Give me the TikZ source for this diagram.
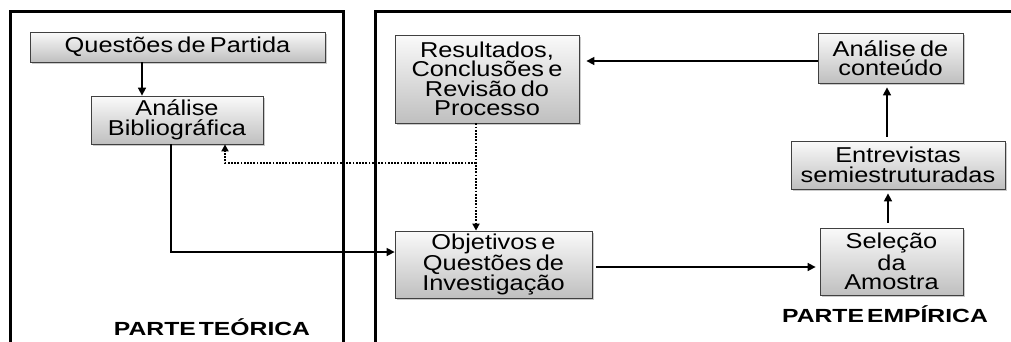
\documentclass[tikz,border=0pt]{standalone}
\usepackage{fontspec}
\setmainfont{Liberation Sans}[FakeStretch=1.18, WordSpace=0.6]
\newfontfamily\lblfont{Liberation Sans}[FakeStretch=1.3, WordSpace=0.45]
\usetikzlibrary{arrows.meta,shadows,calc}
\begin{document}
\begin{tikzpicture}[x=1pt,y=-1pt,
  box/.style={rectangle, draw=black!75, line width=0.8pt, inner sep=0pt, align=center,
    top color=gray!4, bottom color=gray!50,
    drop shadow={shadow xshift=2pt, shadow yshift=-2pt, fill=gray!70, opacity=0.6},
    font=\fontsize{21.5}{19.5}\selectfont},
  arr/.style={line width=1.6pt, -{Triangle[length=8pt,width=8pt]}},
  dotarr/.style={line width=1.8pt, dash pattern=on 1.8pt off 1.4pt, -{Triangle[length=7pt,width=7pt]}},
  frame/.style={line width=3pt},
  lbl/.style={font=\lblfont\bfseries\fontsize{19}{19}\selectfont}]
\useasboundingbox (0,0) rectangle (1011,341);
% panels
\draw[frame] (10,345) -- (10,11) -- (343,11) -- (343,345);
\draw[frame] (375,345) -- (375,11) -- (1015,11);
% boxes
\node[box, minimum width=295pt, minimum height=30pt] (q) at (177.5,47) {Questões de Partida};
\node[box, minimum width=172pt, minimum height=48pt] (ab) at (177,120) {Análise\\Bibliográfica};
\node[box, minimum width=184pt, minimum height=88pt] (res) at (487,79) {Resultados,\\Conclusões e\\Revisão do\\Processo};
\node[box, minimum width=145pt, minimum height=50pt] (ac) at (890.5,58) {Análise de\\conteúdo};
\node[box, minimum width=214pt, minimum height=48pt] (ent) at (898,165) {Entrevistas\\semiestruturadas};
\node[box, minimum width=143pt, minimum height=67pt] (sel) at (891.5,261.5) {Seleção\\da\\Amostra};
\node[box, minimum width=197pt, minimum height=67pt] (obj) at (493.5,264.5) {Objetivos e\\Questões de\\Investigação};
% labels
\node[lbl] (lt) at (212,327) {PARTE TEÓRICA};
\node[lbl] (le) at (885,314) {PARTE EMPÍRICA};
% connectors
\draw[arr] ([xshift=-35.5pt]q.south) -- ([xshift=-35pt]ab.north);
\draw[arr] ([xshift=-6pt]ab.south) |- ([yshift=12.5pt]obj.west);
\draw[dotarr] ([xshift=-11pt]res.south) -- ([xshift=-17.5pt]obj.north);
\coordinate (j) at (476,163);
\draw[dotarr] (j) -| ([xshift=48pt]ab.south);
\draw[arr, shorten >=7pt] ([yshift=-3pt]ac.west) -- ([yshift=-3pt]ac.west -| res.east);
\draw[arr, shorten <=4pt, shorten >=4pt] ([xshift=-11pt]ent.north) -- ([xshift=-11pt]ent.north |- ac.south);
\draw[arr, shorten <=5pt, shorten >=4pt] ([xshift=-3.5pt]sel.north) -- ([xshift=-3.5pt]sel.north |- ent.south);
\draw[arr, shorten <=4pt, shorten >=4pt] ([yshift=-2.5pt]obj.east) -- ([yshift=-2.5pt]obj.east -| sel.west);
\end{tikzpicture}
\end{document}
